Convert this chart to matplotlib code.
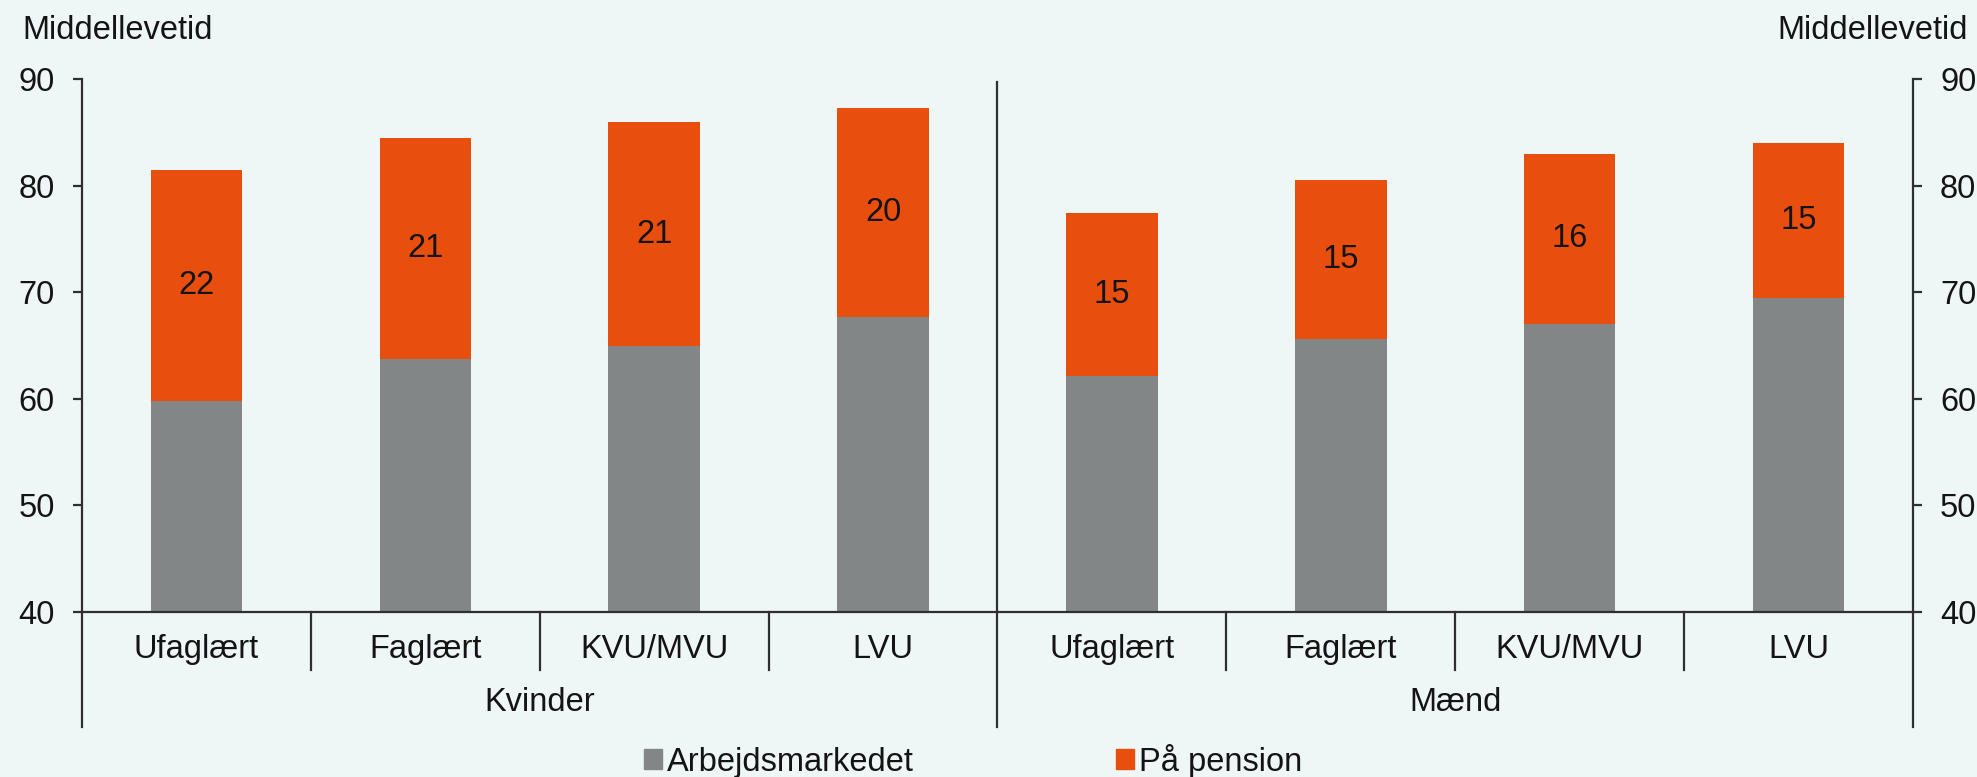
import matplotlib
matplotlib.use("Agg")
import matplotlib.pyplot as plt
from matplotlib.patches import Patch

# data
kategorier = ["Ufaglært", "Faglært", "KVU/MVU", "LVU", "Ufaglært", "Faglært", "KVU/MVU", "LVU"]
grupper = ["Kvinder", "Mænd"]
arbejdsmarked = [59.8, 63.7, 64.9, 67.7, 62.1, 65.6, 67.0, 69.4]
pension = [21.7, 20.8, 21.1, 19.6, 15.3, 14.9, 16.0, 14.6]
yticks = [40, 50, 60, 70, 80, 90]

bg = "#eff7f6"
orange = "#e84e0e"
graa = "#838686"
tekst = "#141414"
linje = "#2f2f33"
fs = 23.5

plt.rcParams["font.family"] = ["Liberation Sans", "DejaVu Sans"]

fig = plt.figure(figsize=(19.77, 7.77), dpi=100, facecolor=bg)
ax = fig.add_axes([0.0415, 0.2127, 0.9261, 0.6856])
ax.set_facecolor(bg)

x = list(range(len(kategorier)))
bund = [40] * len(x)
hoejde1 = [a - 40 for a in arbejdsmarked]
ax.bar(x, hoejde1, bottom=bund, width=0.4, color=graa, zorder=2)
ax.bar(x, pension, bottom=arbejdsmarked, width=0.4, color=orange, zorder=2)

# tal i midten af de orange stykker
for i in x:
    ax.text(i, arbejdsmarked[i] + pension[i] / 2, "%d" % round(pension[i]),
            ha="center", va="center", fontsize=fs, color=tekst, zorder=3)

ax.set_xlim(-0.5, len(x) - 0.5)
ax.set_ylim(40, 90)
ax.set_yticks(yticks)
ax.set_xticks([])

for s in ["top"]:
    ax.spines[s].set_visible(False)
for s in ["left", "right", "bottom"]:
    ax.spines[s].set_color(linje)
    ax.spines[s].set_linewidth(1.6)

ax.tick_params(axis="y", which="both", direction="out", length=6.5, width=1.6,
               color=linje, labelsize=fs, labelcolor=tekst, pad=13,
               left=True, right=True, labelleft=True, labelright=True)

# kategori-akse med to niveauer
tr = ax.get_xaxis_transform()
for s in [0.5, 1.5, 2.5, 4.5, 5.5, 6.5]:
    ax.plot([s, s], [0, -0.109], transform=tr, color=linje, lw=1.6, clip_on=False)
for s in [-0.5, 7.5]:
    ax.plot([s, s], [0, -0.216], transform=tr, color=linje, lw=1.6, clip_on=False)
ax.plot([3.5, 3.5], [0.994, -0.216], transform=tr, color=linje, lw=1.6, clip_on=False, zorder=4)

for i in x:
    ax.text(i, -0.07, kategorier[i], transform=tr, ha="center", va="center",
            fontsize=fs, color=tekst)
for g, navn in enumerate(grupper):
    ax.text(g * 4 + 1.5, -0.171, navn, transform=tr, ha="center", va="center",
            fontsize=fs, color=tekst)

fig.text(0.0115, 0.961, "Middellevetid", ha="left", va="center", fontsize=fs, color=tekst)
fig.text(0.9955, 0.961, "Middellevetid", ha="right", va="center", fontsize=fs, color=tekst)

handles = [Patch(color=graa, label="Arbejdsmarkedet"),
           Patch(color=orange, label="På pension")]
leg = fig.legend(handles=handles, loc="center", bbox_to_anchor=(0.492, 0.021), ncol=2,
                 frameon=False, fontsize=fs, handlelength=0.55, handleheight=0.55,
                 handletextpad=0.15, columnspacing=6.2, borderpad=0)
for t in leg.get_texts():
    t.set_color(tekst)

fig.savefig("out.png", dpi=100, facecolor=bg)
